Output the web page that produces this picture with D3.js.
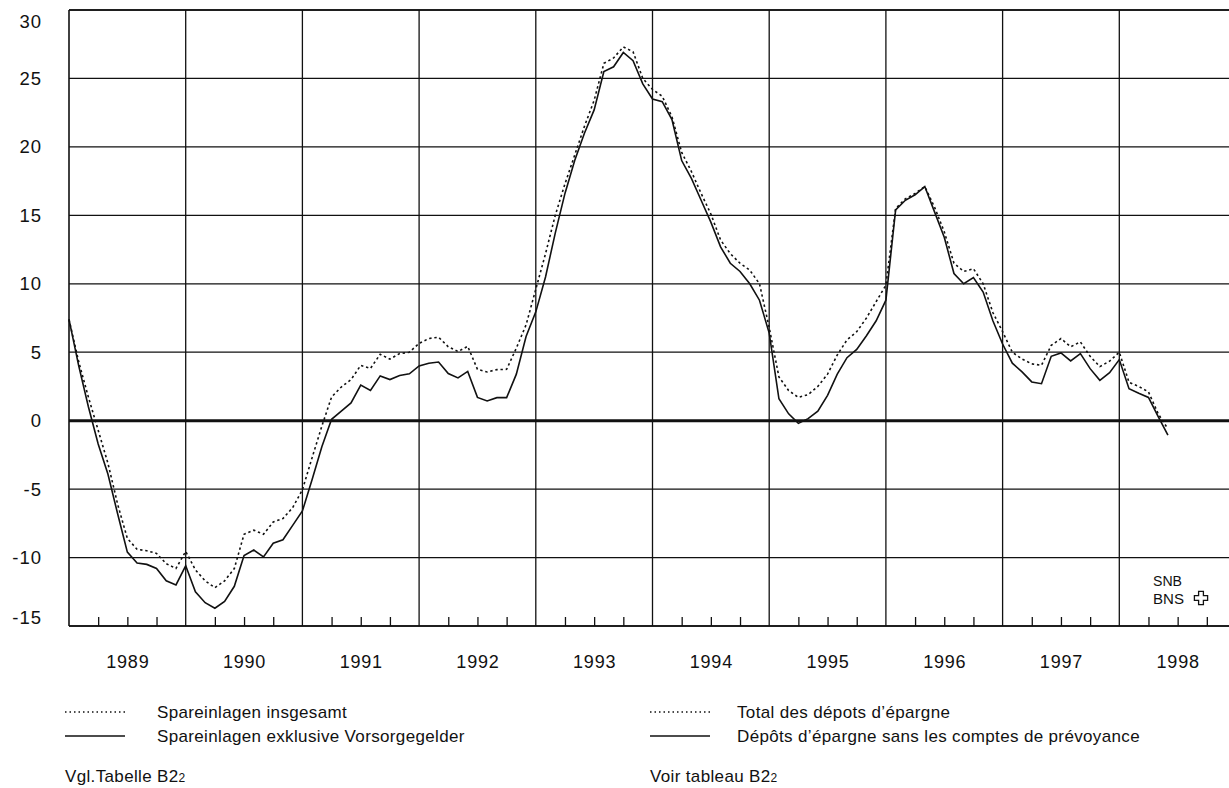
<!DOCTYPE html>
<html>
<head>
<meta charset="utf-8">
<script src="https://cdn.jsdelivr.net/npm/d3@7"></script>
<style>
  body { margin: 0; background: #fff; }
  svg { display: block; font-family: "Liberation Sans", Arial, sans-serif; }
</style>
</head>
<body>
<svg id="chart"></svg>
<script>
// Monthly growth rates in %, January 1989 to June 1998
const startYear = 1989;

// Spareinlagen insgesamt (dotted)
const totalDeposits = [
  7.4, 4.3, 1.7, -0.7, -3.1, -6.1, -8.6, -9.4, -9.5, -9.7, -10.45, -10.8,
  -9.55, -10.9, -11.7, -12.2, -11.7, -10.8, -8.3, -8.0, -8.3, -7.4, -7.15, -6.35,
  -5.05, -2.7, -0.4, 1.73, 2.46, 3.0, 4.04, 3.82, 4.85, 4.5, 4.9, 5.0,
  5.65, 6.0, 6.1, 5.4, 5.05, 5.43, 3.75, 3.56, 3.73, 3.75, 5.3, 7.0,
  9.6, 12.2, 15.0, 17.3, 19.4, 21.5, 23.4, 26.1, 26.5, 27.3, 26.95, 25.0,
  24.2, 23.7, 22.2, 19.6, 18.2, 16.6, 15.1, 13.2, 12.2, 11.5, 11.0, 10.0,
  6.8, 3.2, 2.2, 1.7, 1.9, 2.5, 3.4, 4.8, 5.9, 6.5, 7.5, 8.7,
  9.9, 15.5, 16.2, 16.6, 17.1, 15.6, 13.8, 11.5, 10.9, 11.1, 10.0, 7.9,
  6.5, 5.0, 4.5, 4.15, 4.05, 5.5, 6.0, 5.4, 5.75, 4.7, 3.95, 4.35,
  5.0, 2.8, 2.5, 2.1, 0.5, -0.6
];

// Spareinlagen exklusive Vorsorgegelder (solid)
const excludingPension = [
  7.4, 4.0, 1.0, -1.7, -3.9, -6.8, -9.6, -10.4, -10.5, -10.8, -11.7, -12.0,
  -10.6, -12.5, -13.3, -13.7, -13.2, -12.1, -9.85, -9.45, -9.95, -8.95, -8.7, -7.65,
  -6.6, -4.3, -1.9, 0.1, 0.7, 1.3, 2.6, 2.2, 3.27, 3.0, 3.3, 3.42,
  4.0, 4.2, 4.28, 3.44, 3.12, 3.6, 1.7, 1.44, 1.68, 1.68, 3.4, 6.15,
  7.95, 10.5, 13.7, 16.6, 19.0, 21.0, 22.7, 25.5, 25.85, 26.9, 26.3, 24.6,
  23.5, 23.3, 22.0, 19.0, 17.7, 16.1, 14.5, 12.7, 11.5, 10.9, 10.0, 8.8,
  6.4, 1.6, 0.5, -0.2, 0.15, 0.7, 1.85, 3.4, 4.6, 5.2, 6.2, 7.3,
  8.8, 15.4, 16.1, 16.5, 17.1, 15.25, 13.4, 10.75, 10.0, 10.45, 9.4, 7.3,
  5.6, 4.2, 3.56, 2.83, 2.7, 4.7, 4.95, 4.36, 4.9, 3.8, 2.95, 3.5,
  4.46, 2.34, 2.0, 1.7, 0.3, -1.05
];

const yTicks = [-15, -10, -5, 0, 5, 10, 15, 20, 25, 30];
const years = [1989, 1990, 1991, 1992, 1993, 1994, 1995, 1996, 1997, 1998];

const legendDe = ["Spareinlagen insgesamt", "Spareinlagen exklusive Vorsorgegelder"];
const legendFr = ["Total des dépots d\u2019épargne", "Dépôts d\u2019épargne sans les comptes de prévoyance"];

// Dimensions
const W = 1229, H = 788;
const plot = { left: 69, top: 10, bottom: 626, yearWidth: 116.7 };

const svg = d3.select("#chart")
    .attr("width", W)
    .attr("height", H);

// Scales
const x = d3.scaleLinear()
    .domain([1989, 1999])
    .range([plot.left, plot.left + plot.yearWidth * 10]);

const y = d3.scaleLinear()
    .domain([-15, 30])
    .range([plot.bottom, plot.top]);

const toPoints = arr => arr.map((v, i) => ({ t: startYear + i / 12, v: v }));

// Grid: horizontal lines
const grid = svg.append("g").attr("stroke", "#111");
grid.selectAll(".h")
    .data(yTicks)
  .enter().append("line")
    .attr("x1", plot.left)
    .attr("x2", W)
    .attr("y1", d => y(d))
    .attr("y2", d => y(d))
    .attr("stroke-width", d => d === 0 ? 3 : 1.3);

// Grid: vertical year lines and left border
grid.selectAll(".v")
    .data(years)
  .enter().append("line")
    .attr("x1", d => x(d))
    .attr("x2", d => x(d))
    .attr("y1", plot.top)
    .attr("y2", plot.bottom)
    .attr("stroke-width", d => d === 1989 ? 1.6 : 1.3);

// Quarter ticks pointing up from the bottom axis
const quarters = [];
years.forEach(yr => [0.25, 0.5, 0.75].forEach(q => quarters.push(yr + q)));

svg.append("g")
    .attr("transform", `translate(0,${plot.bottom})`)
    .call(d3.axisBottom(x).tickValues(quarters).tickSize(-9).tickFormat(""))
    .call(g => g.select(".domain").remove())
    .call(g => g.selectAll("line").attr("stroke", "#111").attr("stroke-width", 1.3));

// Year labels, centred in each year cell
svg.append("g")
    .attr("transform", `translate(0,${plot.bottom})`)
    .call(d3.axisBottom(x).tickValues(years.map(d => d + 0.5)).tickSize(0).tickPadding(29)
        .tickFormat(d => Math.floor(d)))
    .call(g => g.select(".domain").remove())
    .call(g => g.selectAll("text")
        .attr("font-size", 18).attr("fill", "#111")
        .attr("font-family", "Liberation Sans, Arial, sans-serif")
        .attr("letter-spacing", 0.8));

// Y axis labels (plain hyphen for negatives, as in the original)
svg.append("g")
    .attr("transform", `translate(${plot.left},0)`)
    .call(d3.axisLeft(y).tickValues(yTicks).tickSize(0).tickPadding(27)
        .tickFormat(d => String(d)))
    .call(g => g.select(".domain").remove())
    .call(g => g.selectAll("text")
        .attr("font-size", 18.5).attr("fill", "#111")
        .attr("font-family", "Liberation Sans, Arial, sans-serif")
        .attr("letter-spacing", 1)
        .attr("dy", d => d === 30 ? "0.95em" : d === -15 ? "-0.12em" : "0.32em"));

// Frame: top border and bottom axis line
svg.append("line")
    .attr("x1", plot.left).attr("x2", W)
    .attr("y1", plot.top).attr("y2", plot.top)
    .attr("stroke", "#111").attr("stroke-width", 1.6);
svg.append("line")
    .attr("x1", plot.left).attr("x2", W)
    .attr("y1", plot.bottom).attr("y2", plot.bottom)
    .attr("stroke", "#111").attr("stroke-width", 1.6);

// Lines
const line = d3.line()
    .x(d => x(d.t))
    .y(d => y(d.v));

svg.append("path")
    .datum(toPoints(totalDeposits))
    .attr("fill", "none")
    .attr("stroke", "#111")
    .attr("stroke-width", 1.6)
    .attr("stroke-dasharray", "2.4,2.8")
    .attr("d", line);

svg.append("path")
    .datum(toPoints(excludingPension))
    .attr("fill", "none")
    .attr("stroke", "#111")
    .attr("stroke-width", 1.6)
    .attr("d", line);

// SNB / BNS mark
const logo = svg.append("g").attr("fill", "#111").attr("font-size", 15);
logo.append("text").attr("x", 1153).attr("y", 586)
    .attr("textLength", 29).attr("lengthAdjust", "spacingAndGlyphs").text("SNB");
logo.append("text").attr("x", 1153).attr("y", 604)
    .attr("textLength", 31).attr("lengthAdjust", "spacingAndGlyphs").text("BNS");
const cx = 1201, cy = 598, a = 2.4, L = 6.6;
logo.append("path")
    .attr("d", `M${cx - a},${cy - L}H${cx + a}V${cy - a}H${cx + L}V${cy + a}H${cx + a}V${cy + L}H${cx - a}V${cy + a}H${cx - L}V${cy - a}H${cx - a}Z`)
    .attr("fill", "none").attr("stroke", "#111").attr("stroke-width", 1.3);

// Legend
const legend = svg.append("g").attr("font-size", 17).attr("fill", "#111")
    .attr("letter-spacing", 0.35);
const cols = [
  { sx: 65, tx: 157, labels: legendDe, note: "Vgl.Tabelle B2" },
  { sx: 650, tx: 737, labels: legendFr, note: "Voir tableau B2" }
];
const rowY = [712, 736];

cols.forEach(c => {
  rowY.forEach((ry, i) => {
    legend.append("line")
        .attr("x1", c.sx).attr("x2", c.sx + 60)
        .attr("y1", ry).attr("y2", ry)
        .attr("stroke", "#111").attr("stroke-width", 1.3)
        .attr("stroke-dasharray", i === 0 ? "1.5,3" : null);
    legend.append("text")
        .attr("x", c.tx).attr("y", ry + 6)
        .text(c.labels[i]);
  });
  const note = legend.append("text").attr("x", c.sx).attr("y", 782).text(c.note);
  note.append("tspan").attr("font-size", 12).text("2");
});
</script>
</body>
</html>
